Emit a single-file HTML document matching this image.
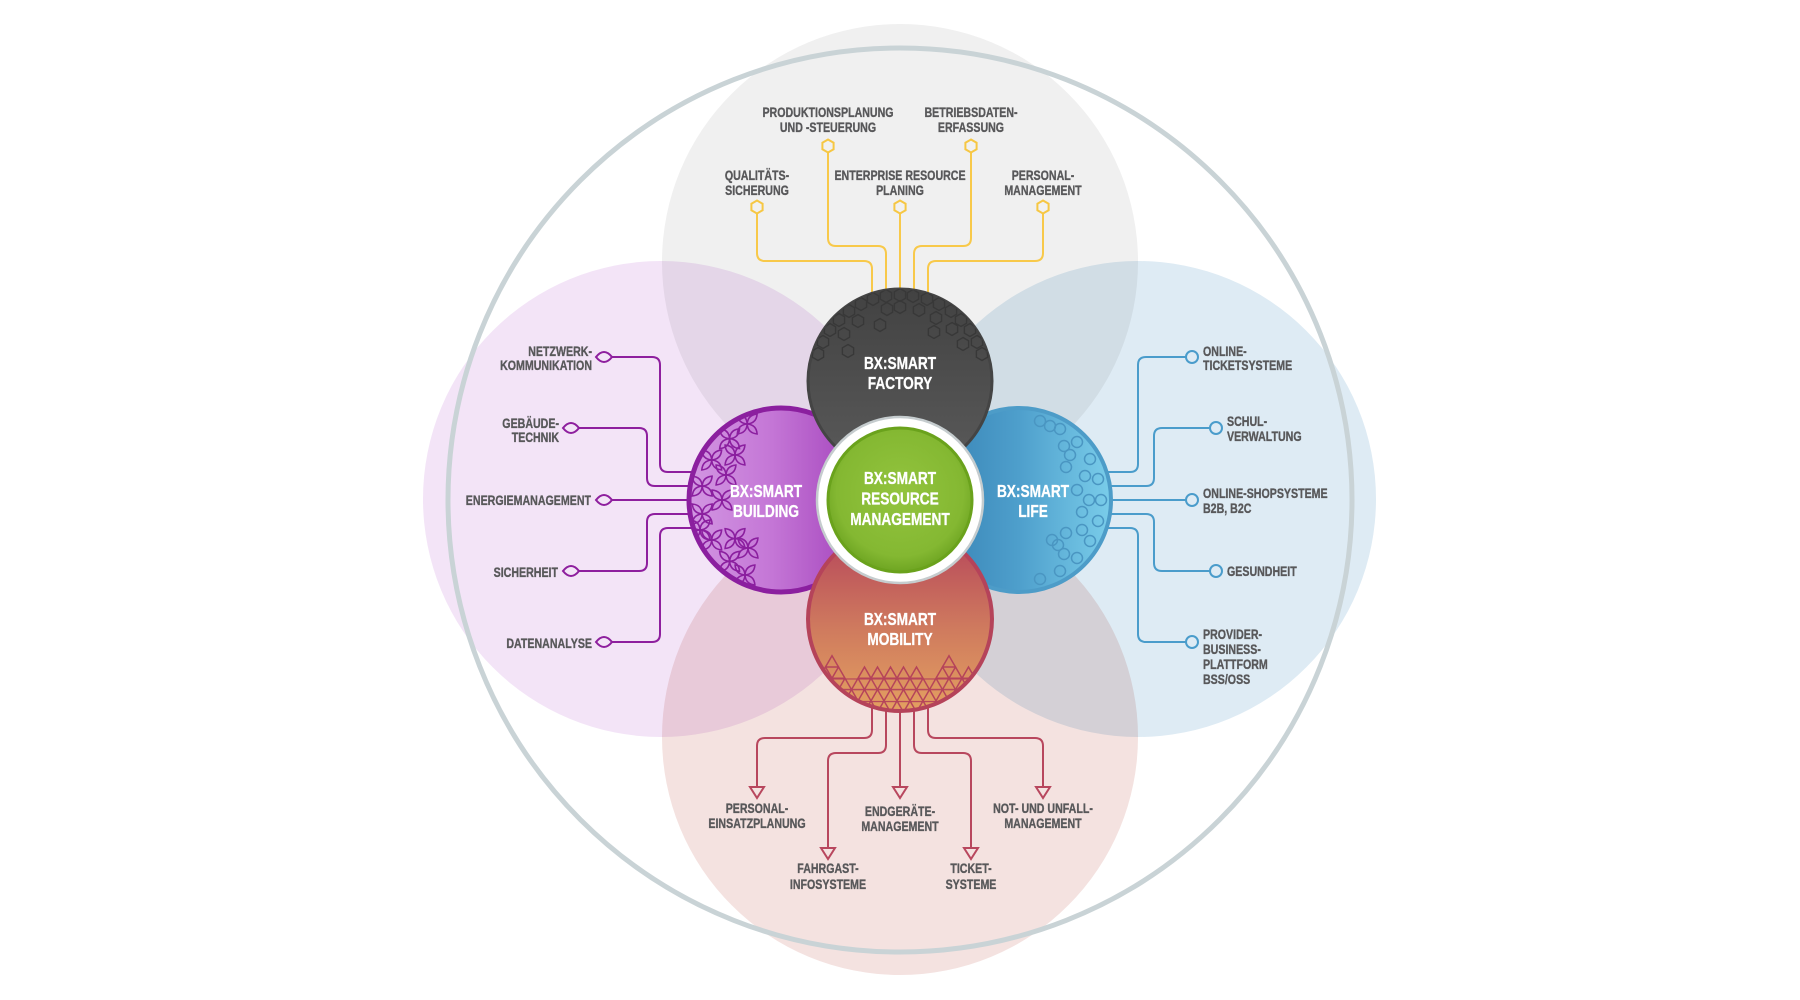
<!DOCTYPE html>
<html><head><meta charset="utf-8"><style>
html,body{margin:0;padding:0;background:#fff;width:1800px;height:1000px;overflow:hidden}
svg{display:block}
.l{font-family:"Liberation Sans",sans-serif;font-weight:bold;font-size:14px;fill:#58585a;stroke:#58585a;stroke-width:0.35}
.t{font-family:"Liberation Sans",sans-serif;font-weight:bold;font-size:18px;fill:#fff;stroke:#fff;stroke-width:0.3}
</style></head><body>
<svg width="1800" height="1000" viewBox="0 0 1800 1000" xmlns="http://www.w3.org/2000/svg">
<defs>
<linearGradient id="gF" x1="0" y1="0" x2="0" y2="1"><stop offset="0" stop-color="#424242"/><stop offset="1" stop-color="#5a5a5a"/></linearGradient>
<linearGradient id="gB" x1="0" y1="0" x2="1" y2="0"><stop offset="0" stop-color="#d296e2"/><stop offset="0.45" stop-color="#c476d6"/><stop offset="1" stop-color="#9f3cb8"/></linearGradient>
<linearGradient id="gL" x1="0" y1="0" x2="1" y2="0"><stop offset="0" stop-color="#3580b2"/><stop offset="0.5" stop-color="#4e9fcc"/><stop offset="1" stop-color="#7acdea"/></linearGradient>
<linearGradient id="gM" x1="0" y1="0" x2="0" y2="1"><stop offset="0" stop-color="#b4425a"/><stop offset="0.55" stop-color="#cf7a5e"/><stop offset="1" stop-color="#e3a060"/></linearGradient>
<radialGradient id="gC" cx="0.5" cy="0.45" r="0.55"><stop offset="0" stop-color="#93c43e"/><stop offset="0.8" stop-color="#84b832"/><stop offset="1" stop-color="#6ea522"/></radialGradient>
<clipPath id="cF"><circle cx="900" cy="381" r="92"/></clipPath>
<clipPath id="cB"><circle cx="781" cy="500" r="91"/></clipPath>
<clipPath id="cL"><circle cx="1019" cy="500" r="91"/></clipPath>
<clipPath id="cM"><circle cx="900" cy="619" r="92"/></clipPath>
<path id="hx" d="M0,-6.5L5.6,-3.25V3.25L0,6.5L-5.6,3.25V-3.25Z" fill="none" stroke="#383838" stroke-width="1.4"/>
<g id="fl" fill="none" stroke="#8b1f9f" stroke-width="1.6">
<path d="M0,0Q6,-7 0,-14Q-6,-7 0,0Z" transform="rotate(45)"/>
<path d="M0,0Q6,-7 0,-14Q-6,-7 0,0Z" transform="rotate(135)"/>
<path d="M0,0Q6,-7 0,-14Q-6,-7 0,0Z" transform="rotate(225)"/>
<path d="M0,0Q6,-7 0,-14Q-6,-7 0,0Z" transform="rotate(315)"/>
</g>
<pattern id="tri" patternUnits="userSpaceOnUse" x="806" y="678.3" width="13" height="22.6">
<path d="M0,0L13,22.6M13,0L0,22.6M0,11.3H13M0,0.5H13" stroke="#b5435a" stroke-width="1.5" fill="none"/>
</pattern>
</defs>

<g style="mix-blend-mode:multiply">
<circle cx="900" cy="262" r="238" fill="#f0f0f0" style="mix-blend-mode:multiply"/>
<circle cx="661" cy="499" r="238" fill="#f3e4f7" style="mix-blend-mode:multiply"/>
<circle cx="1138" cy="499" r="238" fill="#deebf4" style="mix-blend-mode:multiply"/>
<circle cx="900" cy="737" r="238" fill="#f4e2e0" style="mix-blend-mode:multiply"/>
</g>
<circle cx="900" cy="500" r="452" fill="none" stroke="#c9d3d6" stroke-width="5"/>

<g fill="none" stroke="#f8c94a" stroke-width="2">
<path d="M757,213V253q0,8 8,8H864q8,0 8,8V300"/>
<path d="M828,152V238q0,8 8,8H878q8,0 8,8V300"/>
<path d="M900,213V300"/>
<path d="M971,152V238q0,8 -8,8H922q-8,0 -8,8V300"/>
<path d="M1043,213V253q0,8 -8,8H936q-8,0 -8,8V300"/>
</g>
<g fill="#f1f1f1" stroke="#f6c744" stroke-width="2">
<path d="M0,-6.5L5.6,-3.25V3.25L0,6.5L-5.6,3.25V-3.25Z" transform="translate(757 207)"/>
<path d="M0,-6.5L5.6,-3.25V3.25L0,6.5L-5.6,3.25V-3.25Z" transform="translate(828 146)"/>
<path d="M0,-6.5L5.6,-3.25V3.25L0,6.5L-5.6,3.25V-3.25Z" transform="translate(900 207)"/>
<path d="M0,-6.5L5.6,-3.25V3.25L0,6.5L-5.6,3.25V-3.25Z" transform="translate(971 146)"/>
<path d="M0,-6.5L5.6,-3.25V3.25L0,6.5L-5.6,3.25V-3.25Z" transform="translate(1043 207)"/>
</g>

<g fill="none" stroke="#8e1f9e" stroke-width="2">
<path d="M612,357H652q8,0 8,8V464q0,8 8,8H705"/>
<path d="M579,428H639q8,0 8,8V478q0,8 8,8H705"/>
<path d="M612,500H705"/>
<path d="M579,571H639q8,0 8,-8V522q0,-8 8,-8H705"/>
<path d="M612,642H652q8,0 8,-8V536q0,-8 8,-8H705"/>
</g>
<g fill="#f3e5f7" stroke="#8e1f9e" stroke-width="2">
<path d="M-8,0Q0,-10 8,0Q0,10 -8,0Z" transform="translate(604 357)"/>
<path d="M-8,0Q0,-10 8,0Q0,10 -8,0Z" transform="translate(571 428)"/>
<path d="M-8,0Q0,-10 8,0Q0,10 -8,0Z" transform="translate(604 500)"/>
<path d="M-8,0Q0,-10 8,0Q0,10 -8,0Z" transform="translate(571 571)"/>
<path d="M-8,0Q0,-10 8,0Q0,10 -8,0Z" transform="translate(604 642)"/>
</g>

<g fill="none" stroke="#4a9ccb" stroke-width="2">
<path d="M1095,472H1130q8,0 8,-8V365q0,-8 8,-8H1186"/>
<path d="M1095,486H1146q8,0 8,-8V436q0,-8 8,-8H1210"/>
<path d="M1095,500H1186"/>
<path d="M1095,514H1146q8,0 8,8V563q0,8 8,8H1210"/>
<path d="M1095,528H1130q8,0 8,8V634q0,8 8,8H1186"/>
</g>
<g fill="#deebf4" stroke="#4a9ccb" stroke-width="2">
<circle cx="1192" cy="357" r="6"/>
<circle cx="1216" cy="428" r="6"/>
<circle cx="1192" cy="500" r="6"/>
<circle cx="1216" cy="571" r="6"/>
<circle cx="1192" cy="642" r="6"/>
</g>

<g fill="none" stroke="#b8475e" stroke-width="2">
<path d="M872,700V730q0,8 -8,8H765q-8,0 -8,8V787"/>
<path d="M886,700V745q0,8 -8,8H836q-8,0 -8,8V848"/>
<path d="M900,700V787"/>
<path d="M914,700V745q0,8 8,8H963q8,0 8,8V848"/>
<path d="M928,700V730q0,8 8,8H1035q8,0 8,8V787"/>
</g>
<g fill="#f4e2e0" stroke="#b8475e" stroke-width="2" stroke-linejoin="miter">
<path d="M750,787H764L757,798Z"/>
<path d="M821,848H835L828,859Z"/>
<path d="M893,787H907L900,798Z"/>
<path d="M964,848H978L971,859Z"/>
<path d="M1036,787H1050L1043,798Z"/>
</g>

<text class="l" text-anchor="middle" transform="translate(828 117) scale(.76 1)"><tspan x="0">PRODUKTIONSPLANUNG</tspan><tspan x="0" dy="15">UND -STEUERUNG</tspan></text>
<text class="l" text-anchor="middle" transform="translate(971 117) scale(.76 1)"><tspan x="0">BETRIEBSDATEN-</tspan><tspan x="0" dy="15">ERFASSUNG</tspan></text>
<text class="l" text-anchor="middle" transform="translate(757 180) scale(.76 1)"><tspan x="0">QUALITÄTS-</tspan><tspan x="0" dy="15">SICHERUNG</tspan></text>
<text class="l" text-anchor="middle" transform="translate(900 180) scale(.76 1)"><tspan x="0">ENTERPRISE RESOURCE</tspan><tspan x="0" dy="15">PLANING</tspan></text>
<text class="l" text-anchor="middle" transform="translate(1043 180) scale(.76 1)"><tspan x="0">PERSONAL-</tspan><tspan x="0" dy="15">MANAGEMENT</tspan></text>

<text class="l" text-anchor="end" transform="translate(592 356) scale(.76 1)"><tspan x="0">NETZWERK-</tspan><tspan x="0" dy="14">KOMMUNIKATION</tspan></text>
<text class="l" text-anchor="end" transform="translate(559 428) scale(.76 1)"><tspan x="0">GEBÄUDE-</tspan><tspan x="0" dy="14">TECHNIK</tspan></text>
<text class="l" text-anchor="end" transform="translate(591 505) scale(.76 1)">ENERGIEMANAGEMENT</text>
<text class="l" text-anchor="end" transform="translate(558 577) scale(.76 1)">SICHERHEIT</text>
<text class="l" text-anchor="end" transform="translate(592 648) scale(.76 1)">DATENANALYSE</text>

<text class="l" transform="translate(1203 356) scale(.76 1)"><tspan x="0">ONLINE-</tspan><tspan x="0" dy="14">TICKETSYSTEME</tspan></text>
<text class="l" transform="translate(1227 426) scale(.76 1)"><tspan x="0">SCHUL-</tspan><tspan x="0" dy="15">VERWALTUNG</tspan></text>
<text class="l" transform="translate(1203 498) scale(.76 1)"><tspan x="0">ONLINE-SHOPSYSTEME</tspan><tspan x="0" dy="15">B2B, B2C</tspan></text>
<text class="l" transform="translate(1227 576) scale(.76 1)">GESUNDHEIT</text>
<text class="l" transform="translate(1203 639) scale(.76 1)"><tspan x="0">PROVIDER-</tspan><tspan x="0" dy="15">BUSINESS-</tspan><tspan x="0" dy="15">PLATTFORM</tspan><tspan x="0" dy="15">BSS/OSS</tspan></text>

<text class="l" text-anchor="middle" transform="translate(757 813) scale(.76 1)"><tspan x="0">PERSONAL-</tspan><tspan x="0" dy="15">EINSATZPLANUNG</tspan></text>
<text class="l" text-anchor="middle" transform="translate(900 816) scale(.76 1)"><tspan x="0">ENDGERÄTE-</tspan><tspan x="0" dy="15">MANAGEMENT</tspan></text>
<text class="l" text-anchor="middle" transform="translate(1043 813) scale(.76 1)"><tspan x="0">NOT- UND UNFALL-</tspan><tspan x="0" dy="15">MANAGEMENT</tspan></text>
<text class="l" text-anchor="middle" transform="translate(828 873) scale(.76 1)"><tspan x="0">FAHRGAST-</tspan><tspan x="0" dy="16">INFOSYSTEME</tspan></text>
<text class="l" text-anchor="middle" transform="translate(971 873) scale(.76 1)"><tspan x="0">TICKET-</tspan><tspan x="0" dy="16">SYSTEME</tspan></text>

<circle cx="781" cy="500" r="92" fill="url(#gB)" stroke="#8b1f9f" stroke-width="5"/>
<g clip-path="url(#cB)">
<use href="#fl" x="729.6" y="561.3"/>
<use href="#fl" x="711.7" y="540"/>
<use href="#fl" x="702.2" y="513.9"/>
<use href="#fl" x="702.2" y="486.1"/>
<use href="#fl" x="711.7" y="460"/>
<use href="#fl" x="729.6" y="438.7"/>
<use href="#fl" x="747.2" y="424"/>
<use href="#fl" x="735" y="538.6"/>
<use href="#fl" x="722" y="500"/>
<use href="#fl" x="726" y="475"/>
<use href="#fl" x="735" y="455"/>
<use href="#fl" x="748" y="548"/>
<use href="#fl" x="745" y="575"/>
<use href="#fl" x="700" y="530"/>
</g>

<circle cx="1019" cy="500" r="92" fill="url(#gL)" stroke="#4d9cc8" stroke-width="4"/>
<g clip-path="url(#cL)" fill="none" stroke="#4a96c2" stroke-width="1.5">
<circle cx="1040" cy="421" r="5.5"/><circle cx="1050" cy="426" r="5.5"/>
<circle cx="1060" cy="429" r="5.5"/><circle cx="1077" cy="442" r="5.5"/>
<circle cx="1090" cy="459" r="5.5"/><circle cx="1098" cy="479" r="5.5"/>
<circle cx="1101" cy="500" r="5.5"/><circle cx="1098" cy="521" r="5.5"/>
<circle cx="1090" cy="541" r="5.5"/><circle cx="1077" cy="558" r="5.5"/>
<circle cx="1060" cy="571" r="5.5"/><circle cx="1040" cy="579" r="5.5"/>
<circle cx="1064" cy="446" r="5.5"/><circle cx="1085" cy="476" r="5.5"/>
<circle cx="1089" cy="500" r="5.5"/><circle cx="1082" cy="512" r="5.5"/>
<circle cx="1082" cy="530" r="5.5"/><circle cx="1064" cy="554" r="5.5"/>
<circle cx="1066" cy="467" r="5.5"/><circle cx="1077" cy="490" r="5.5"/>
<circle cx="1066" cy="533" r="5.5"/><circle cx="1058" cy="545" r="5.5"/>
<circle cx="1052" cy="540" r="5.5"/><circle cx="1070" cy="455" r="5.5"/>
</g>

<circle cx="900" cy="381" r="92" fill="url(#gF)" stroke="#444" stroke-width="3"/>
<g clip-path="url(#cF)">
<use href="#hx" x="818" y="354"/><use href="#hx" x="823" y="342"/>
<use href="#hx" x="830" y="330"/><use href="#hx" x="839" y="320"/>
<use href="#hx" x="849" y="311"/><use href="#hx" x="861" y="304"/>
<use href="#hx" x="873" y="299"/><use href="#hx" x="886" y="296"/>
<use href="#hx" x="900" y="295"/><use href="#hx" x="913" y="296"/>
<use href="#hx" x="927" y="299"/><use href="#hx" x="939" y="304"/>
<use href="#hx" x="951" y="311"/><use href="#hx" x="961" y="320"/>
<use href="#hx" x="970" y="330"/><use href="#hx" x="977" y="342"/>
<use href="#hx" x="982" y="354"/>
<use href="#hx" x="844" y="334"/><use href="#hx" x="858" y="321"/>
<use href="#hx" x="887" y="309"/><use href="#hx" x="919" y="310"/>
<use href="#hx" x="936" y="318"/><use href="#hx" x="952" y="329"/>
<use href="#hx" x="963" y="344"/><use href="#hx" x="880" y="325"/>
<use href="#hx" x="934" y="332"/><use href="#hx" x="848" y="351"/>
<use href="#hx" x="900" y="307"/>
</g>

<circle cx="900" cy="619" r="92" fill="url(#gM)" stroke="#b5435a" stroke-width="4"/>
<g clip-path="url(#cM)">
<rect x="800" y="678.3" width="200" height="50" fill="url(#tri)"/>
<g fill="none" stroke="#b5435a" stroke-width="1.5">
<path d="M819,678.3l6.5,-11.3l6.5,11.3zM832,678.3l6.5,-11.3l6.5,11.3zM858,678.3l6.5,-11.3l6.5,11.3zM871,678.3l6.5,-11.3l6.5,11.3zM884,678.3l6.5,-11.3l6.5,11.3zM897,678.3l6.5,-11.3l6.5,11.3zM910,678.3l6.5,-11.3l6.5,11.3zM936,678.3l6.5,-11.3l6.5,11.3zM949,678.3l6.5,-11.3l6.5,11.3zM962,678.3l6.5,-11.3l6.5,11.3z"/>
<path d="M825.5,667l6.5,-11.3l6.5,11.3zM942.5,667l6.5,-11.3l6.5,11.3z"/>
</g>
</g>

<circle cx="900" cy="500" r="83" fill="#fff" stroke="#c5ccce" stroke-width="2.5"/>
<circle cx="900" cy="500" r="72" fill="url(#gC)" stroke="#6aa21c" stroke-width="3"/>

<text class="t" text-anchor="middle" transform="translate(900 369) scale(.76 1)"><tspan x="0">BX:SMART</tspan><tspan x="0" dy="20">FACTORY</tspan></text>
<text class="t" text-anchor="middle" transform="translate(766 497) scale(.76 1)"><tspan x="0">BX:SMART</tspan><tspan x="0" dy="20">BUILDING</tspan></text>
<text class="t" text-anchor="middle" transform="translate(1033 497) scale(.76 1)"><tspan x="0">BX:SMART</tspan><tspan x="0" dy="20">LIFE</tspan></text>
<text class="t" text-anchor="middle" transform="translate(900 484) scale(.76 1)"><tspan x="0">BX:SMART</tspan><tspan x="0" dy="20.5">RESOURCE</tspan><tspan x="0" dy="20.5">MANAGEMENT</tspan></text>
<text class="t" text-anchor="middle" transform="translate(900 625) scale(.76 1)"><tspan x="0">BX:SMART</tspan><tspan x="0" dy="20">MOBILITY</tspan></text>
</svg>
</body></html>
